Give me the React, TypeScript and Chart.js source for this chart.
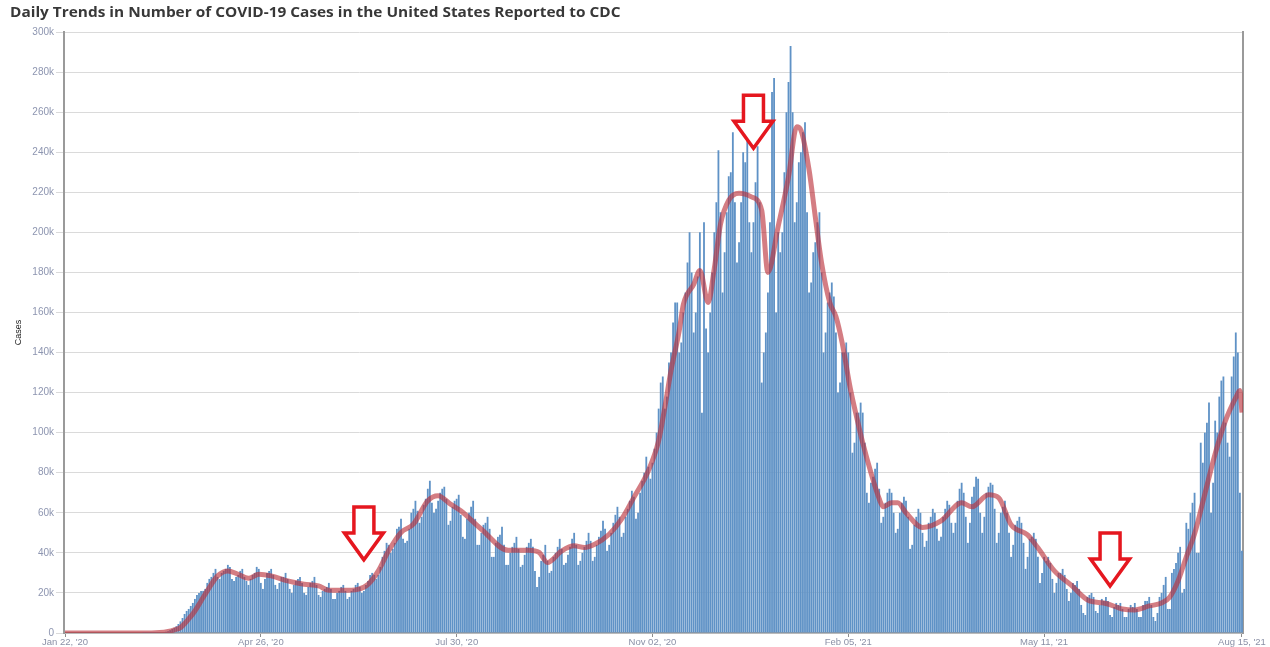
import React, { useEffect, useRef } from 'react';
import { Chart, registerables } from 'chart.js';

Chart.register(...registerables);

const TITLE = 'Daily Trends in Number of COVID-19 Cases in the United States Reported to CDC';
const Y_TITLE = 'Cases';

// x tick positions (day index from Jan 22, 2020) and their labels
const tickDays = [0, 95, 190, 285, 380, 475, 571];
const tickLabels = ["Jan 22, '20", "Apr 26, '20", "Jul 30, '20", "Nov 02, '20", "Feb 05, '21", "May 11, '21", "Aug 15, '21"];

// daily new cases, thousands (Jan 22, 2020 .. Aug 15, 2021), one row per week (Sun..Sat)
const dailyCases = [
  0, 0, 0, 0,
  0, 0, 0, 0, 0, 0, 0,
  0, 0, 0, 0, 0, 0, 0,
  0, 0, 0, 0, 0, 0, 0,
  0, 0, 0, 0, 0, 0, 0,
  0, 0, 0, 0, 0, 0, 0.01,
  0.01, 0.02, 0.02, 0.03, 0.04, 0.06, 0.08,
  0.15, 0.25, 0.4, 0.6, 0.9, 1.4, 2.0,
  2.6, 3.4, 4.5, 5.8, 7.5, 9.5, 11,
  12, 13.5, 15, 17, 19, 20, 21,
  21, 22, 25, 27, 28, 30, 32,
  28, 27, 30, 31, 32, 34, 33,
  27, 26, 28, 29, 31, 32, 28,
  26, 24, 27, 29, 30, 33, 32,
  25, 22, 27, 30, 31, 32, 29,
  24, 22, 25, 28, 28, 30, 27,
  22, 20, 24, 26, 27, 28, 25,
  20, 19, 23, 25, 26, 28, 24,
  19, 18, 21, 22, 23, 25, 22,
  17, 17, 20, 21, 23, 24, 21,
  17, 18, 21, 22, 24, 25, 23,
  20, 21, 24, 26, 29, 30, 29,
  27, 29, 33, 38, 41, 45, 44,
  40, 42, 45, 52, 53, 57, 47,
  45, 46, 52, 60, 62, 66, 61,
  55, 58, 64, 67, 72, 76, 65,
  60, 62, 66, 70, 72, 73, 67,
  54, 56, 63, 66, 67, 69, 59,
  48, 47, 57, 60, 63, 66, 57,
  44, 44, 50, 54, 55, 58, 52,
  38, 38, 45, 48, 49, 53, 44,
  34, 34, 40, 43, 45, 48, 42,
  33, 34, 39, 43, 45, 47, 43,
  31, 23, 28, 36, 39, 44, 36,
  30, 31, 38, 40, 43, 47, 42,
  34, 35, 39, 43, 47, 50, 44,
  34, 36, 40, 43, 46, 50, 46,
  36, 38, 44, 48, 51, 56, 52,
  41, 44, 50, 55, 59, 63, 58,
  48, 50, 58, 62, 66, 71, 68,
  57, 60, 70, 76, 80, 88, 83,
  77, 85, 92, 100, 112, 125, 128,
  112, 118, 135, 140, 155, 165, 165,
  140, 145, 160, 170, 185, 200, 180,
  150, 160, 178, 200, 110, 205, 152,
  140, 160, 180, 200, 215, 241, 210,
  170, 190, 210, 228, 230, 250, 215,
  185, 195, 215, 240, 235, 252, 205,
  190, 205, 225, 243, 215, 125, 140,
  150, 170, 205, 270, 277, 160, 200,
  190, 200, 230, 260, 275, 293, 260,
  205, 215, 235, 240, 250, 255, 210,
  170, 175, 190, 195, 205, 210, 180,
  140, 150, 165, 170, 175, 168, 150,
  120, 125, 140, 140, 145, 140, 120,
  90, 95, 110, 110, 115, 110, 95,
  70, 65, 75, 78, 82, 85, 72,
  55, 58, 65, 70, 72, 70, 60,
  50, 52, 60, 65, 68, 66, 58,
  42, 44, 54, 58, 62, 60, 50,
  43, 46, 55, 58, 62, 60, 52,
  46, 48, 58, 62, 66, 64, 55,
  50, 55, 66, 72, 75, 70, 58,
  45, 55, 68, 73, 78, 77, 60,
  50, 58, 70, 73, 75, 74, 62,
  45, 50, 60, 63, 66, 60, 50,
  38, 44, 54, 56, 58, 55, 45,
  32, 38, 47, 48, 50, 47, 38,
  25, 30, 38, 36, 38, 35, 27,
  20, 25, 30, 30, 32, 29, 22,
  16, 20, 25, 24, 26, 22, 14,
  10, 9, 18, 19, 20, 18, 11,
  10, 14, 17, 16, 18, 16, 9,
  8, 13, 15, 14, 15, 12, 8,
  8, 12, 14, 13, 15, 12, 8,
  8, 14, 16, 16, 18, 14, 8,
  6, 10, 18, 20, 24, 28, 12,
  12, 30, 32, 35, 40, 43, 20,
  22, 55, 52, 60, 65, 70, 40,
  40, 95, 85, 100, 105, 115, 60,
  75, 106, 100, 118, 126, 128, 105,
  95, 88, 128, 138, 150, 140, 70,
  41,
];

// 7-day average readings (day index, thousands)
const avgDays = [0, 42, 46, 50, 53, 56, 60, 63, 66, 69, 74, 79, 84, 89, 94, 100, 108, 116, 123, 128, 135, 142, 147, 152, 157, 163, 169, 176, 181, 187, 192, 202, 215, 225, 230, 234, 241, 247, 252, 257, 264, 270, 276, 283, 288, 291, 294, 298, 300, 305, 308, 312, 315, 318, 322, 327, 333, 338, 341, 346, 351, 355, 357, 361, 364, 367, 371, 374, 377, 381, 384, 387, 391, 395, 397, 401, 404, 408, 416, 425, 435, 440, 448, 453, 459, 467, 472, 480, 488, 497, 504, 513, 519, 526, 532, 536, 540, 544, 548, 553, 558, 563, 568, 570, 571];
const avgValues = [0, 0, 0.2, 0.8, 1.6, 2.7, 7, 11, 16, 21, 28.5, 31, 29.3, 27.3, 29.3, 28.5, 26, 24.3, 23.5, 21.3, 21.3, 21.8, 24.3, 31, 41, 50.2, 54.3, 66, 68.5, 64.3, 61, 51.8, 41.3, 41.3, 40.2, 35.2, 41, 43.5, 42.7, 44.3, 49.3, 56.8, 67.7, 81, 96, 112.7, 131, 151, 164, 174, 181, 165, 182, 204, 216, 219.5, 217.7, 211, 180, 203, 227.7, 252.7, 251, 231, 207.7, 185, 165, 158, 145, 122, 108, 95, 80, 67, 63, 65, 65, 60, 52.7, 56, 65, 63, 69, 67.5, 54, 49, 42.5, 31, 24, 16, 15, 12, 11.5, 13.5, 15, 18, 26, 38, 49.5, 69.5, 89.5, 106, 117.5, 121, 110];

// red annotation arrows: tip position (day index, thousands)
const arrowDays = [145, 334, 507];
const arrowValues = [36.5, 242, 23.5];

const arrowPlugin = {
  id: 'downArrows',
  afterDatasetsDraw(chart: any) {
    const { ctx, scales } = chart;
    const xs = scales.x;
    const ys = scales.y;
    arrowDays.forEach((d, i) => {
      const tx = xs.getPixelForValue(d);
      const ty = ys.getPixelForValue(arrowValues[i]);
      const hw = 19.5, sw = 10, hh = 27, sh = 26;
      ctx.save();
      ctx.beginPath();
      ctx.moveTo(tx, ty);
      ctx.lineTo(tx - hw, ty - hh);
      ctx.lineTo(tx - sw, ty - hh);
      ctx.lineTo(tx - sw, ty - hh - sh);
      ctx.lineTo(tx + sw, ty - hh - sh);
      ctx.lineTo(tx + sw, ty - hh);
      ctx.lineTo(tx + hw, ty - hh);
      ctx.closePath();
      ctx.fillStyle = '#ffffff';
      ctx.fill();
      ctx.lineWidth = 3.5;
      ctx.lineJoin = 'miter';
      ctx.strokeStyle = '#e5171f';
      ctx.stroke();
      ctx.restore();
    });
  },
};

export default function App() {
  const ref = useRef<HTMLCanvasElement>(null);

  useEffect(() => {
    Chart.defaults.font.family = "'Liberation Sans', Arial, sans-serif";
    const chart = new Chart(ref.current as HTMLCanvasElement, {
      data: {
        datasets: [
          {
            type: 'line',
            label: '7-Day Moving Average',
            data: avgDays.map((d, i) => ({ x: d, y: avgValues[i] })),
            borderColor: 'rgba(185, 45, 55, 0.62)',
            borderWidth: 5,
            pointRadius: 0,
            cubicInterpolationMode: 'monotone',
            fill: false,
            order: 0,
          },
          {
            type: 'bar',
            label: 'Daily Cases',
            data: dailyCases.map((v, i) => ({ x: i, y: v })),
            backgroundColor: '#5f92c6',
            borderWidth: 0,
            barPercentage: 0.88,
            categoryPercentage: 1,
            order: 1,
          },
        ],
      },
      options: {
        animation: false,
        responsive: true,
        maintainAspectRatio: false,
        layout: { padding: { top: 32, left: 0, right: 0, bottom: 0 } },
        plugins: {
          legend: { display: false },
          tooltip: { enabled: false },
          title: { display: false },
        },
        scales: {
          x: {
            type: 'linear',
            min: -0.5,
            max: 571.5,
            offset: false,
            afterBuildTicks: (scale: any) => {
              scale.ticks = tickDays.map((v) => ({ value: v }));
            },
            afterFit: (scale: any) => {
              scale.height = 14;
            },
            ticks: {
              autoSkip: false,
              maxRotation: 0,
              padding: 0,
              color: '#8a90a6',
              font: { size: 9.5 },
              callback: (v: any) => {
                const idx = tickDays.indexOf(Number(v));
                return idx >= 0 ? tickLabels[idx] : '';
              },
            },
            grid: { offset: false, drawOnChartArea: false, drawTicks: true, tickLength: 4, color: '#8c8c8c' },
            border: { color: '#9a9a9a', width: 1.5 },
          },
          y: {
            position: 'left',
            min: 0,
            max: 300,
            afterFit: (scale: any) => {
              scale.width = 64;
            },
            ticks: {
              stepSize: 20,
              padding: 2,
              color: '#8d95b0',
              font: { size: 10 },
              callback: (v: any) => (Number(v) === 0 ? '0' : `${v}k`),
            },
            grid: { color: '#dadada', lineWidth: 1, tickLength: 8 },
            border: { color: '#9a9a9a', width: 2 },
            title: {
              display: true,
              text: Y_TITLE,
              color: '#222222',
              font: { size: 9 },
              padding: { top: 13, bottom: 0 },
            },
          },
          y2: {
            position: 'right',
            min: 0,
            max: 300,
            afterFit: (scale: any) => {
              scale.width = 27;
            },
            ticks: { display: false },
            grid: { drawOnChartArea: false, drawTicks: false },
            border: { color: '#9a9a9a', width: 2 },
          },
        },
      },
      plugins: [arrowPlugin],
    } as any);
    return () => chart.destroy();
  }, []);

  return (
    <div style={{ position: 'fixed', left: 0, top: 0, width: 1270, height: 647, background: '#ffffff' }}>
      <canvas ref={ref} />
      <div
        style={{
          position: 'absolute',
          left: 10,
          top: 3,
          fontFamily: "'Open Sans', sans-serif",
          fontWeight: 700,
          fontSize: 13.5,
          color: '#383838',
          whiteSpace: 'nowrap',
          transform: 'scaleX(1.14)',
          transformOrigin: 'left top',
          zIndex: 1,
        }}
      >
        {TITLE}
      </div>
    </div>
  );
}
